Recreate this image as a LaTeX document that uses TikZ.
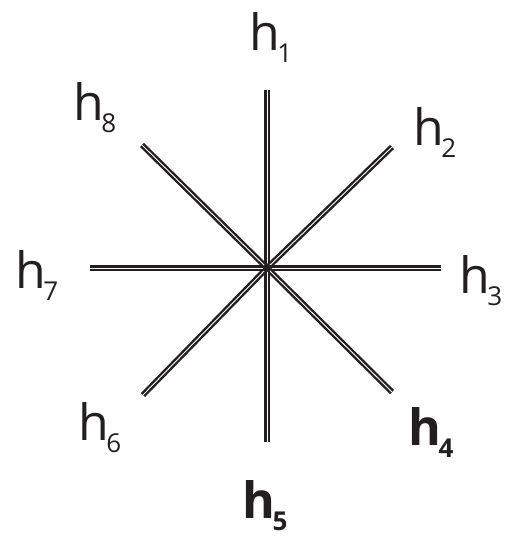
\documentclass[tikz,border=0pt]{standalone}
\usepackage{fontspec}
\setsansfont{Open Sans}
\usetikzlibrary{positioning}
\definecolor{ink}{HTML}{231F20}
\newcommand{\hsub}[1]{h\kern-1.5pt\raisebox{-6pt}{\fontsize{13}{15}\selectfont #1}}
\tikzset{
  spoke/.style={draw=ink, double=white, double distance=0.45pt, line width=1.2pt},
  hlbl/.style={font=\sffamily\fontsize{25}{29}\selectfont, text=ink, inner sep=0pt},
  hbold/.style={hlbl, font=\sffamily\bfseries\fontsize{25}{29}\selectfont},
}
\begin{document}
\begin{tikzpicture}[x=0.5pt, y=0.5pt]
  \useasboundingbox (-267,-271) rectangle (239,268);

  % --- hub and spoke ends ------------------------------------------------
  \coordinate (c) at (0,0);
  \coordinate (e1) at (0,178);
  \coordinate (e2) at (125,121);
  \coordinate (e3) at (174,0);
  \coordinate (e4) at (125,-124);
  \coordinate (e5) at (0,-174);
  \coordinate (e6) at (-124,-127);
  \coordinate (e7) at (-177,0);
  \coordinate (e8) at (-125,123);

  \foreach \e in {e1,e2,e3,e4,e5,e6,e7,e8} { \draw[spoke] (c) -- (\e); }
  \fill[ink] (c) circle (4);

  % --- labels ------------------------------------------------------------
  \node[hlbl]  (h1) at (4,230)     {\hsub{1}};
  \node[hlbl]  (h2) at (168,135)   {\hsub{2}};
  \node[hlbl]  (h3) at (214,-13)   {\hsub{3}};
  \node[hbold] (h4) at (164,-165)  {\hsub{4}};
  \node[hbold] (h5) at (-2,-238)   {\hsub{5}};
  \node[hlbl]  (h6) at (-167,-160) {\hsub{6}};
  \node[hlbl]  (h7) at (-230,-8)   {\hsub{7}};
  \node[hlbl]  (h8) at (-172,160)  {\hsub{8}};

\end{tikzpicture}
\end{document}
